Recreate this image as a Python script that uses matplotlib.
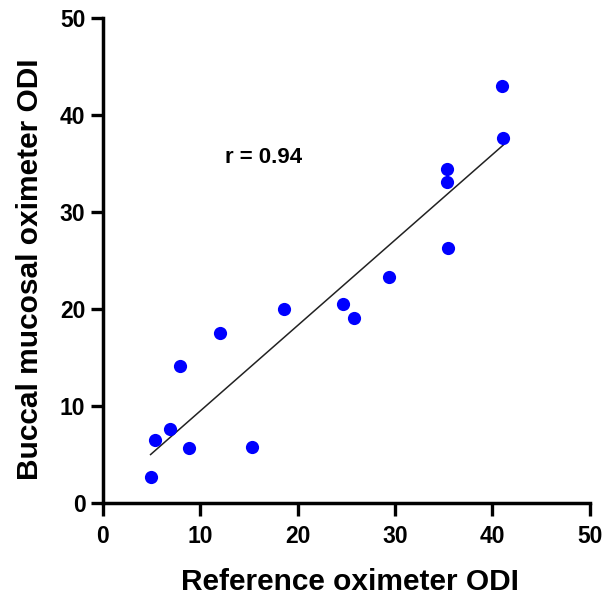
import numpy as np
import matplotlib
matplotlib.use("Agg")
import matplotlib.pyplot as plt

plt.rcParams['font.family'] = ['Liberation Sans', 'DejaVu Sans']
plt.rcParams['font.weight'] = 'bold'

# Paired ODI measurements
reference_odi = [4.9, 5.4, 6.9, 7.9, 8.8, 12.0, 15.3, 18.6, 24.7, 25.8,
                 29.4, 35.35, 35.35, 35.4, 41.1, 41.0]
buccal_odi = [2.7, 6.5, 7.6, 14.1, 5.6, 17.5, 5.8, 20.0, 20.5, 19.1,
              23.3, 34.4, 33.1, 26.3, 37.6, 43.0]
x_ticks = [0, 10, 20, 30, 40, 50]
y_ticks = [0, 10, 20, 30, 40, 50]
r_label = "r = 0.94"

x = np.array(reference_odi)
y = np.array(buccal_odi)

fig = plt.figure(figsize=(6.05, 5.95), dpi=100)
ax = fig.add_axes([0.170, 0.155, 0.805, 0.815])

# Least-squares line over the observed range
slope, intercept = np.polyfit(x, y, 1)
xs = np.array([x.min(), x.max()])
ax.plot(xs, slope * xs + intercept, color='#222222', lw=1.1, zorder=2)

ax.plot(x, y, 'o', color='#0000ff', markersize=9.5, markeredgewidth=0,
        zorder=3, clip_on=False)

ax.text(12.5, 35.6, r_label, fontsize=16, fontweight='bold',
        va='center', ha='left')

ax.set_xlim(0, 50)
ax.set_ylim(0, 50)
ax.set_xticks(x_ticks)
ax.set_yticks(y_ticks)

for side in ('top', 'right'):
    ax.spines[side].set_visible(False)
for side in ('left', 'bottom'):
    ax.spines[side].set_linewidth(2.5)
ax.tick_params(axis='both', which='major', direction='out', length=9,
               width=2.4, labelsize=16.5)
ax.tick_params(axis='x', pad=7)
ax.tick_params(axis='y', pad=3.5)
for lbl in ax.get_xticklabels() + ax.get_yticklabels():
    lbl.set_fontweight('bold')

# Axis titles placed in figure coordinates
fig.text(0.578, 0.0225, 'Reference oximeter ODI', fontsize=21.5,
         fontweight='bold', ha='center', va='center')
fig.text(0.0496, 0.548, 'Buccal mucosal oximeter ODI', fontsize=21.5,
         fontweight='bold', ha='center', va='center', rotation=90)

fig.savefig('out.png', dpi=100)
